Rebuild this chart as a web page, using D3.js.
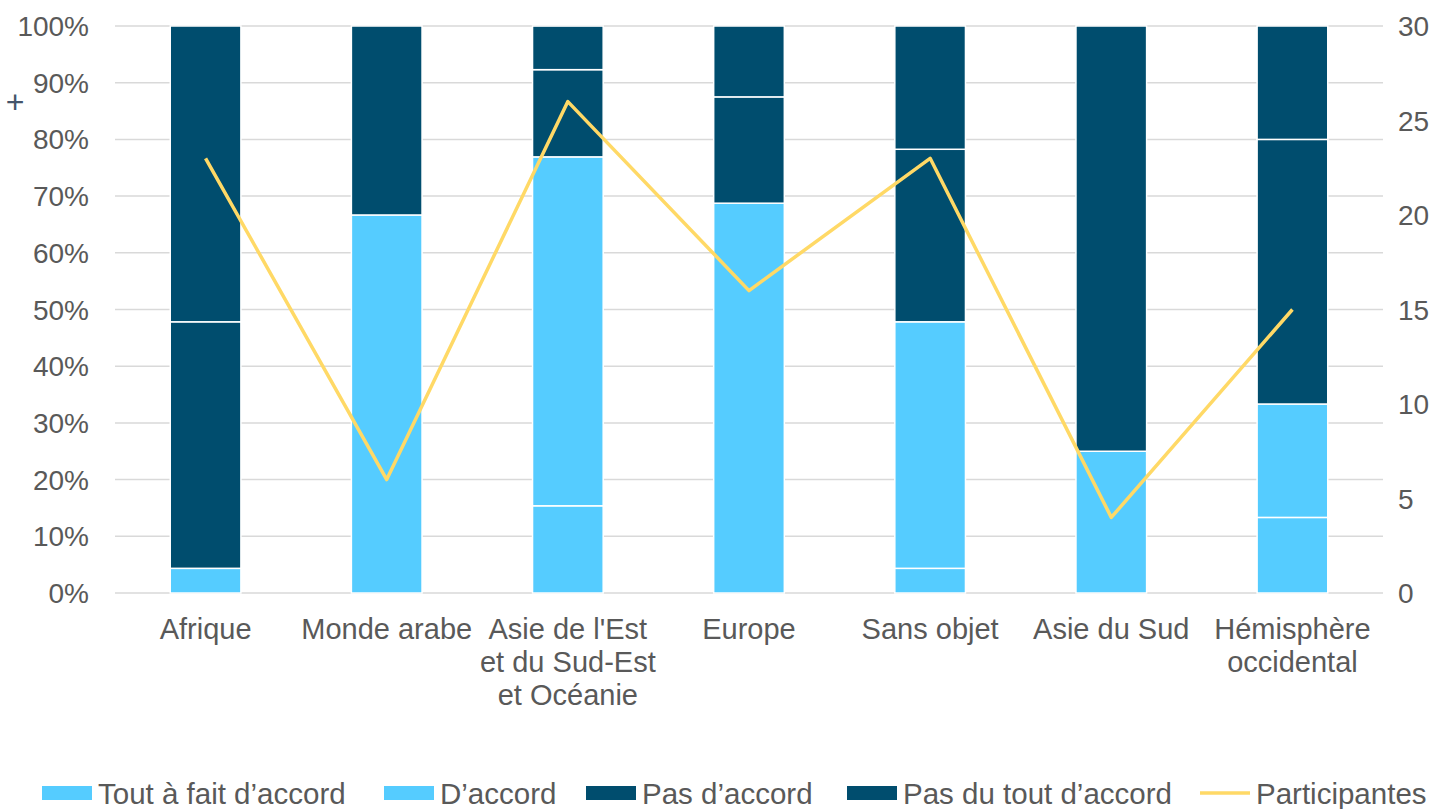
<!DOCTYPE html>
<html><head><meta charset="utf-8">
<script src="https://cdn.jsdelivr.net/npm/d3@7"></script>
<style>body{margin:0;background:#fff}svg{display:block;font-family:"Liberation Sans",Arial,sans-serif}</style>
</head><body><svg id="c" width="1445" height="809"></svg>
<script>
const categories = [["Afrique"],["Monde arabe"],["Asie de l'Est","et du Sud-Est","et Océanie"],["Europe"],["Sans objet"],["Asie du Sud"],["Hémisphère","occidental"]];
const toutAFait = [4.35, 0, 15.38, 0, 4.35, 0, 13.33];
const dAccord = [0, 66.67, 61.54, 68.75, 43.48, 25, 20];
const pasDAccord = [43.48, 33.33, 15.38, 18.75, 30.43, 75, 46.67];
const pasDuTout = [52.17, 0, 7.69, 12.5, 21.74, 0, 20];
const participantes = [23, 6, 26, 16, 23, 4, 15];
const leftTicks = [0,10,20,30,40,50,60,70,80,90,100];
const rightTicks = [0,5,10,15,20,25,30];
const seriesNames = ["Tout à fait d’accord","D’accord","Pas d’accord","Pas du tout d’accord"];
const seriesColors = ["#55CCFF","#55CCFF","#004D6E","#004D6E"];
const lineColor = "#FFD966";

const svg = d3.select("#c");
const L = 115, R = 1383, T = 26, B = 593;
const x = d3.scaleBand().domain(d3.range(categories.length)).range([L,R]).paddingInner(0.61).paddingOuter(0.305);
const y = d3.scaleLinear().domain([0,100]).range([B,T]);
const y2 = d3.scaleLinear().domain([0,30]).range([B,T]);
const txt = "#595959";

// gridlines
svg.append("g").selectAll("line").data(leftTicks).join("line")
  .attr("x1",L).attr("x2",R).attr("y1",d=>y(d)).attr("y2",d=>y(d))
  .attr("stroke","#D9D9D9").attr("stroke-width",1.5);

// left axis labels
svg.append("g").selectAll("text").data(leftTicks).join("text")
  .attr("x",89).attr("y",d=>y(d)).attr("dy","0.36em").attr("text-anchor","end")
  .attr("font-size",28).attr("fill",txt).text(d=>d+"%");
svg.append("text").attr("x",15).attr("y",113).attr("text-anchor","middle").attr("font-size",32).attr("fill","#44546A").text("+");
// right axis labels
svg.append("g").selectAll("text").data(rightTicks).join("text")
  .attr("x",1398).attr("y",d=>y2(d)).attr("dy","0.36em").attr("text-anchor","start")
  .attr("font-size",28).attr("fill",txt).text(d=>d);

// stacked bars
const rows = categories.map((c,i)=>({i, s0:toutAFait[i], s1:dAccord[i], s2:pasDAccord[i], s3:pasDuTout[i]}));
const stack = d3.stack().keys(["s0","s1","s2","s3"])(rows);
stack.forEach((layer,k)=>{
  svg.append("g").selectAll("rect").data(layer.filter(d=>d[1]-d[0]>0)).join("rect")
    .attr("x",d=>x(d.data.i)).attr("width",x.bandwidth())
    .attr("y",d=>y(d[1])).attr("height",d=>y(d[0])-y(d[1]))
    .attr("fill",seriesColors[k]).attr("stroke","#fff").attr("stroke-width",1.5);
});

// line
const line = d3.line().x((d,i)=>x(i)+x.bandwidth()/2).y(d=>y2(d));
svg.append("path").datum(participantes).attr("d",line).attr("fill","none")
  .attr("stroke",lineColor).attr("stroke-width",3.5).attr("stroke-linejoin","round");

// category labels
const cg = svg.append("g");
categories.forEach((lines,i)=>{
  const t = cg.append("text").attr("text-anchor","middle").attr("font-size",29).attr("fill",txt);
  lines.forEach((ln,j)=>t.append("tspan").attr("x",x(i)+x.bandwidth()/2).attr("y",639+j*33).text(ln));
});

// legend
const legX = [42,384,586,847];
const lg = svg.append("g");
seriesNames.forEach((n,k)=>{
  lg.append("rect").attr("x",legX[k]).attr("y",786).attr("width",50).attr("height",14).attr("fill",seriesColors[k]);
  lg.append("text").attr("x",legX[k]+56).attr("y",793).attr("dy","0.36em").attr("font-size",29.5).attr("fill",txt).text(n);
});
lg.append("line").attr("x1",1200).attr("x2",1250).attr("y1",793).attr("y2",793).attr("stroke",lineColor).attr("stroke-width",3.5);
lg.append("text").attr("x",1256).attr("y",793).attr("dy","0.36em").attr("font-size",29.5).attr("fill",txt).text("Participantes");
</script></body></html>
